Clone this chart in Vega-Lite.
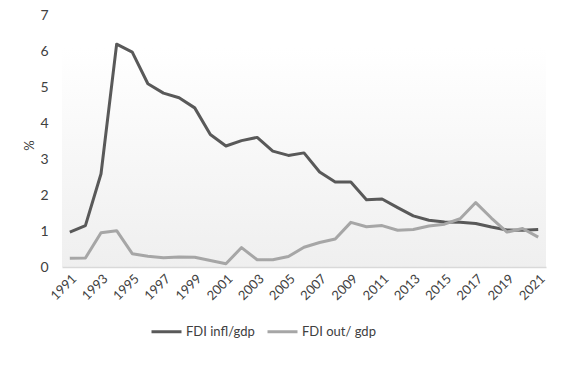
{
  "$schema": "https://vega.github.io/schema/vega-lite/v6.json",
  "autosize": "none",
  "width": 484,
  "height": 252,
  "padding": {"left": 62, "top": 15, "right": 36, "bottom": 99},
  "background": "white",
  "config": {
    "font": "Lato",
    "view": {
      "stroke": null,
      "fill": {"gradient": "linear", "x1": 0, "y1": 0, "x2": 0, "y2": 1,
        "stops": [{"offset": 0, "color": "#ffffff"}, {"offset": 0.13, "color": "#ffffff"}, {"offset": 1, "color": "#efefef"}]}
    }
  },
  "datasets": {
    "fdi": [
      {"year": 1991, "series": "FDI infl/gdp", "value": 0.97},
      {"year": 1992, "series": "FDI infl/gdp", "value": 1.15},
      {"year": 1993, "series": "FDI infl/gdp", "value": 2.59},
      {"year": 1994, "series": "FDI infl/gdp", "value": 6.19},
      {"year": 1995, "series": "FDI infl/gdp", "value": 5.97},
      {"year": 1996, "series": "FDI infl/gdp", "value": 5.09},
      {"year": 1997, "series": "FDI infl/gdp", "value": 4.83},
      {"year": 1998, "series": "FDI infl/gdp", "value": 4.70},
      {"year": 1999, "series": "FDI infl/gdp", "value": 4.42},
      {"year": 2000, "series": "FDI infl/gdp", "value": 3.68},
      {"year": 2001, "series": "FDI infl/gdp", "value": 3.36},
      {"year": 2002, "series": "FDI infl/gdp", "value": 3.51},
      {"year": 2003, "series": "FDI infl/gdp", "value": 3.60},
      {"year": 2004, "series": "FDI infl/gdp", "value": 3.22},
      {"year": 2005, "series": "FDI infl/gdp", "value": 3.10},
      {"year": 2006, "series": "FDI infl/gdp", "value": 3.17},
      {"year": 2007, "series": "FDI infl/gdp", "value": 2.64},
      {"year": 2008, "series": "FDI infl/gdp", "value": 2.36},
      {"year": 2009, "series": "FDI infl/gdp", "value": 2.36},
      {"year": 2010, "series": "FDI infl/gdp", "value": 1.87},
      {"year": 2011, "series": "FDI infl/gdp", "value": 1.89},
      {"year": 2012, "series": "FDI infl/gdp", "value": 1.65},
      {"year": 2013, "series": "FDI infl/gdp", "value": 1.42},
      {"year": 2014, "series": "FDI infl/gdp", "value": 1.30},
      {"year": 2015, "series": "FDI infl/gdp", "value": 1.25},
      {"year": 2016, "series": "FDI infl/gdp", "value": 1.24},
      {"year": 2017, "series": "FDI infl/gdp", "value": 1.21},
      {"year": 2018, "series": "FDI infl/gdp", "value": 1.11},
      {"year": 2019, "series": "FDI infl/gdp", "value": 1.03},
      {"year": 2020, "series": "FDI infl/gdp", "value": 1.02},
      {"year": 2021, "series": "FDI infl/gdp", "value": 1.04},
      {"year": 1991, "series": "FDI out/ gdp", "value": 0.24},
      {"year": 1992, "series": "FDI out/ gdp", "value": 0.25},
      {"year": 1993, "series": "FDI out/ gdp", "value": 0.95},
      {"year": 1994, "series": "FDI out/ gdp", "value": 1.01},
      {"year": 1995, "series": "FDI out/ gdp", "value": 0.37},
      {"year": 1996, "series": "FDI out/ gdp", "value": 0.30},
      {"year": 1997, "series": "FDI out/ gdp", "value": 0.26},
      {"year": 1998, "series": "FDI out/ gdp", "value": 0.28},
      {"year": 1999, "series": "FDI out/ gdp", "value": 0.27},
      {"year": 2000, "series": "FDI out/ gdp", "value": 0.18},
      {"year": 2001, "series": "FDI out/ gdp", "value": 0.09},
      {"year": 2002, "series": "FDI out/ gdp", "value": 0.54},
      {"year": 2003, "series": "FDI out/ gdp", "value": 0.20},
      {"year": 2004, "series": "FDI out/ gdp", "value": 0.20},
      {"year": 2005, "series": "FDI out/ gdp", "value": 0.29},
      {"year": 2006, "series": "FDI out/ gdp", "value": 0.55},
      {"year": 2007, "series": "FDI out/ gdp", "value": 0.68},
      {"year": 2008, "series": "FDI out/ gdp", "value": 0.78},
      {"year": 2009, "series": "FDI out/ gdp", "value": 1.24},
      {"year": 2010, "series": "FDI out/ gdp", "value": 1.12},
      {"year": 2011, "series": "FDI out/ gdp", "value": 1.15},
      {"year": 2012, "series": "FDI out/ gdp", "value": 1.02},
      {"year": 2013, "series": "FDI out/ gdp", "value": 1.04},
      {"year": 2014, "series": "FDI out/ gdp", "value": 1.14},
      {"year": 2015, "series": "FDI out/ gdp", "value": 1.19},
      {"year": 2016, "series": "FDI out/ gdp", "value": 1.34},
      {"year": 2017, "series": "FDI out/ gdp", "value": 1.79},
      {"year": 2018, "series": "FDI out/ gdp", "value": 1.36},
      {"year": 2019, "series": "FDI out/ gdp", "value": 0.97},
      {"year": 2020, "series": "FDI out/ gdp", "value": 1.07},
      {"year": 2021, "series": "FDI out/ gdp", "value": 0.83}
    ]
  },
  "data": {"name": "fdi"},
  "mark": {"type": "line", "strokeWidth": 3, "strokeJoin": "round"},
  "encoding": {
    "x": {
      "field": "year", "type": "ordinal",
      "scale": {"type": "point", "padding": 0.5},
      "axis": {
        "title": null,
        "values": [1991,1993,1995,1997,1999,2001,2003,2005,2007,2009,2011,2013,2015,2017,2019,2021],
        "labelAngle": -45,
        "labelFontSize": 13,
        "labelColor": "#404040",
        "labelPadding": 5,
        "ticks": false,
        "domainColor": "#d9d9d9",
        "domainWidth": 1.5,
        "grid": false
      }
    },
    "y": {
      "field": "value", "type": "quantitative",
      "scale": {"domain": [0, 7], "nice": false},
      "axis": {
        "title": "%",
        "titleFontSize": 13,
        "titleFontWeight": "normal",
        "titleColor": "#404040",
        "titleX": -26,
        "titleY": 130,
        "values": [0,1,2,3,4,5,6,7],
        "labelFontSize": 14,
        "labelColor": "#404040",
        "labelPadding": 14,
        "ticks": false,
        "domain": false,
        "grid": false
      }
    },
    "color": {
      "field": "series", "type": "nominal",
      "scale": {"domain": ["FDI infl/gdp", "FDI out/ gdp"], "range": ["#595959", "#a6a6a6"]},
      "legend": {
        "title": null,
        "orient": "none",
        "direction": "horizontal",
        "legendX": 88,
        "legendY": 300,
        "symbolType": "stroke",
        "symbolSize": 900,
        "symbolStrokeWidth": 3,
        "labelFontSize": 13,
        "labelColor": "#404040",
        "labelOffset": 3,
        "columnPadding": 6
      }
    }
  }
}
